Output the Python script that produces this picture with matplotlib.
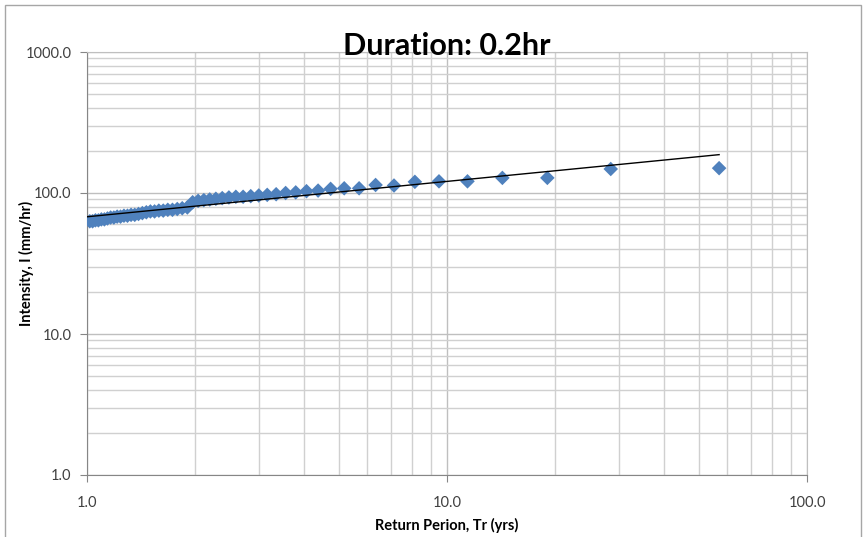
import matplotlib
matplotlib.use("Agg")

import numpy as np
import matplotlib.pyplot as plt
from matplotlib.patches import Rectangle
from matplotlib.ticker import FixedLocator, FormatStrFormatter, NullFormatter

plt.rcParams['font.family'] = ['Lato', 'DejaVu Sans']

# ranked intensities (largest first), Weibull plotting position Tr = (n+1)/m
intensity = [150, 148, 128, 128, 121, 121, 120, 113, 114, 108,
             108, 107, 104, 103, 101, 100, 98, 97, 96, 95,
             94, 94, 93, 92, 91, 90, 89, 88, 86, 79,
             78, 77, 76, 76, 75, 75, 74, 74, 73, 72,
             71, 70, 70, 69, 69, 68, 68, 67, 67, 66,
             65, 65, 64, 64, 63, 63]
n = len(intensity)
rank = np.arange(1, n + 1)
return_period = (n + 1) / rank

title = "Duration: 0.2hr"
xlabel = "Return Perion, Tr (yrs)"
ylabel = "Intensity, I (mm/hr)"

fig = plt.figure(figsize=(8.66, 5.37), dpi=100)
ax = fig.add_axes([87 / 866, 1 - 475 / 537, 720 / 866, 423 / 537])

# chart frame
fig.patches.append(Rectangle((5 / 866, -0.02), 856 / 866, 1 - 5 / 537 + 0.02,
                             transform=fig.transFigure, fill=False,
                             edgecolor="#a6a6a6", linewidth=1.0))

ax.scatter(return_period, intensity, marker="D", s=55, color="#4f81bd",
           edgecolors="none", zorder=3)

# power trendline I = a * Tr^b
b, loga = np.polyfit(np.log10(return_period), np.log10(intensity), 1)
tr = np.array([1.0, return_period.max()])
ax.plot(tr, 10 ** loga * tr ** b, color="black", linewidth=1.0, zorder=4)

ax.set_xscale("log")
ax.set_yscale("log")
ax.set_xlim(1, 100)
ax.set_ylim(1, 1000)

ax.xaxis.set_major_locator(FixedLocator([1, 10, 100]))
ax.yaxis.set_major_locator(FixedLocator([1, 10, 100, 1000]))
minors = [k * d for d in (1, 10, 100) for k in range(2, 10)]
ax.xaxis.set_minor_locator(FixedLocator(minors))
ax.yaxis.set_minor_locator(FixedLocator(minors))
ax.xaxis.set_major_formatter(FormatStrFormatter("%.1f"))
ax.yaxis.set_major_formatter(FormatStrFormatter("%.1f"))
ax.xaxis.set_minor_formatter(NullFormatter())
ax.yaxis.set_minor_formatter(NullFormatter())

ax.grid(True, which="major", color="#bfbfbf", linewidth=1.0)
ax.grid(True, which="minor", color="#d0d0d0", linewidth=1.0)
ax.set_axisbelow(True)

for s in ax.spines.values():
    s.set_color("#bfbfbf")
ax.spines["left"].set_color("#868686")
ax.spines["bottom"].set_color("#868686")

ax.tick_params(which="major", length=5, color="#868686", labelsize=10.5,
               labelcolor="#404040", pad=6)
ax.tick_params(which="minor", length=0)
ax.tick_params(axis="x", pad=10)

ax.set_title(title, fontsize=22, fontweight="bold", y=1.0, pad=-2)
ax.set_xlabel(xlabel, fontsize=10.5, fontweight="bold", labelpad=6)
ax.set_ylabel(ylabel, fontsize=10.5, fontweight="bold")
ax.yaxis.set_label_coords(-0.073, 0.5)

plt.savefig("out.png", dpi=100)
